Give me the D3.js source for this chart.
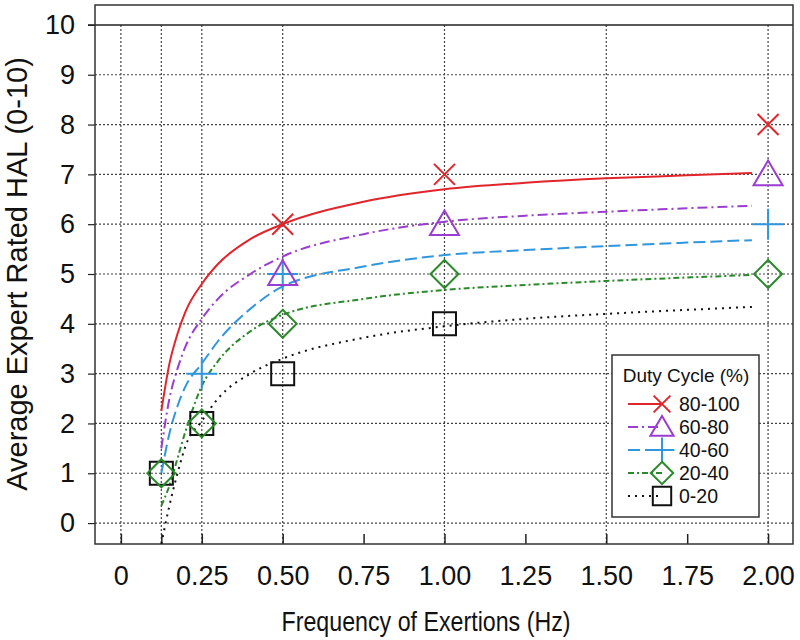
<html>
<head>
  <meta charset="utf-8">
  <style>
    body { margin: 0; background: #fff; }
    svg { font-family: "Liberation Sans", Arial, sans-serif; }
  </style>
</head>
<body>
  <svg></svg>
  <script src="https://d3js.org/d3.v7.min.js"></script>
  <script>
    let width = 800, height = 640;

    // data
    const fitX = [0.125, 0.15, 0.175, 0.2, 0.25, 0.3, 0.4, 0.5, 0.75, 1.0, 1.25, 1.5, 1.75, 1.95];
    const fit80 = [2.25, 3.2, 3.8, 4.25, 4.8, 5.2, 5.7, 6.0, 6.45, 6.7, 6.83, 6.92, 6.98, 7.03];
    const fit60 = [1.5, 2.5, 3.1, 3.55, 4.1, 4.5, 5.0, 5.35, 5.8, 6.05, 6.17, 6.25, 6.32, 6.37];
    const fit40 = [1.0, 1.8, 2.35, 2.75, 3.2, 3.65, 4.3, 4.75, 5.15, 5.38, 5.48, 5.56, 5.63, 5.68];
    const fit20 = [0.35, 0.75, 1.3, 1.85, 2.75, 3.25, 3.85, 4.18, 4.5, 4.68, 4.78, 4.86, 4.93, 4.98];
    const fit0 = [-0.42, 0.35, 1.0, 1.55, 2.05, 2.5, 3.0, 3.3, 3.72, 3.95, 4.1, 4.2, 4.28, 4.34];

    const pts80 = [[0.5, 6], [1, 7], [2, 8]];
    const pts60 = [[0.5, 5], [1, 6], [2, 7]];
    const pts40 = [[0.25, 3], [0.5, 5], [2, 6]];
    const pts20 = [[0.125, 1], [0.25, 2], [0.5, 4], [1, 5], [2, 5]];
    const pts0 = [[0.125, 1], [0.25, 2], [0.5, 3], [1, 4]];

    const groups = ["80-100", "60-80", "40-60", "20-40", "0-20"];
    const xTickVals = [0, 0.125, 0.25, 0.5, 0.75, 1, 1.25, 1.5, 1.75, 2];
    const xLabelVals = [0, 0.25, 0.5, 0.75, 1, 1.25, 1.5, 1.75, 2];
    const xGridVals = [0, 0.125, 0.25, 0.5, 1, 1.5, 2];
    const yTickVals = [0, 1, 2, 3, 4, 5, 6, 7, 8, 9, 10];

    const series = [
      { name: groups[0], fit: fit80, pts: pts80, color: "#e0252b", dash: null, shape: "x", size: 21 },
      { name: groups[1], fit: fit60, pts: pts60, color: "#9b3dd1", dash: "10,4,2,4", shape: "tri", size: 29 },
      { name: groups[2], fit: fit40, pts: pts40, color: "#3096de", dash: "12,5", shape: "plus", size: 31 },
      { name: groups[3], fit: fit20, pts: pts20, color: "#2a8a2a", dash: "6,3,2,3", shape: "dia", size: 28 },
      { name: groups[4], fit: fit0, pts: pts0, color: "#111", dash: "2,5", shape: "sq", size: 23 }
    ];

    let svg = d3.select("svg")
      .attr("width", width)
      .attr("height", height);

    let mLeft = 95, mRight = 793, mTop = 5, mBottom = 544;

    let x = d3.scaleLinear().domain([-0.08, 2.077]).range([mLeft, mRight]);
    let y = d3.scaleLinear().domain([-0.42, 10.4]).range([mBottom, mTop]);

    // marker shapes
    function marker(shape, s) {
      let h = s / 2;
      if (shape == "x") return `M${-h},${-h}L${h},${h}M${-h},${h}L${h},${-h}`;
      if (shape == "plus") return `M${-h},0L${h},0M0,${-h}L0,${h}`;
      if (shape == "tri") return `M0,${-h * 0.95}L${h},${h * 0.75}L${-h},${h * 0.75}Z`;
      if (shape == "dia") return `M0,${-h}L${h},0L0,${h}L${-h},0Z`;
      return `M${-h},${-h}H${h}V${h}H${-h}Z`;
    }

    svg.append("defs").append("clipPath").attr("id", "plot")
      .append("rect")
      .attr("x", mLeft).attr("y", mTop)
      .attr("width", mRight - mLeft).attr("height", mBottom - mTop);

    // grid
    svg.append("g")
      .selectAll("line")
      .data(yTickVals.slice(0, -1))
      .enter().append("line")
      .attr("x1", mLeft).attr("x2", mRight)
      .attr("y1", d => y(d)).attr("y2", d => y(d))
      .attr("stroke", "#444").attr("stroke-width", 1.2)
      .attr("stroke-dasharray", "2,2");

    svg.append("g")
      .selectAll("line")
      .data(xGridVals)
      .enter().append("line")
      .attr("x1", d => x(d)).attr("x2", d => x(d))
      .attr("y1", y(10)).attr("y2", mBottom)
      .attr("stroke", "#444").attr("stroke-width", 1.2)
      .attr("stroke-dasharray", "2,2");

    // solid line at 10
    svg.append("line")
      .attr("x1", mLeft - 7).attr("x2", mRight)
      .attr("y1", y(10)).attr("y2", y(10))
      .attr("stroke", "#222").attr("stroke-width", 1.5);

    // axes
    let yAxis = d3.axisLeft(y).tickValues(yTickVals).tickSize(7).tickPadding(13);
    svg.append("g")
      .attr("transform", `translate(${mLeft},0)`)
      .call(yAxis)
      .call(g => g.select(".domain").remove())
      .call(g => g.selectAll("line").attr("stroke", "#222").attr("stroke-width", 1.2))
      .call(g => g.selectAll("text").style("font-size", "27px").attr("fill", "#111"));

    svg.append("g")
      .attr("transform", `translate(0,${mBottom})`)
      .call(d3.axisBottom(x).tickValues(xTickVals).tickSize(-10).tickFormat(""))
      .call(g => g.select(".domain").remove())
      .call(g => g.selectAll("line").attr("stroke", "#222").attr("stroke-width", 1.5));

    svg.append("g")
      .attr("transform", `translate(0,${mBottom})`)
      .call(d3.axisBottom(x).tickValues(xLabelVals).tickSize(0).tickPadding(22)
        .tickFormat(d => d == 0 ? "0" : d3.format(".2f")(d)))
      .call(g => g.select(".domain").remove())
      .call(g => g.selectAll("text").style("font-size", "27px").attr("fill", "#111"));

    // frame
    svg.append("rect")
      .attr("x", mLeft).attr("y", mTop)
      .attr("width", mRight - mLeft).attr("height", mBottom - mTop)
      .attr("fill", "none").attr("stroke", "#333").attr("stroke-width", 1.5);

    // fitted curves
    let line = d3.line()
      .x((d, i) => x(fitX[i]))
      .y(d => y(d))
      .curve(d3.curveMonotoneX);

    let curves = svg.append("g").attr("clip-path", "url(#plot)");
    series.slice().reverse().forEach(s => {
      curves.append("path")
        .attr("d", line(s.fit))
        .attr("fill", "none")
        .attr("stroke", s.color)
        .attr("stroke-width", 2)
        .attr("stroke-dasharray", s.dash);
    });

    // observed points
    series.slice().reverse().forEach(s => {
      svg.append("g")
        .selectAll("path")
        .data(s.pts)
        .enter().append("path")
        .attr("transform", d => `translate(${x(d[0])},${y(d[1])})`)
        .attr("d", marker(s.shape, s.size))
        .attr("fill", "none")
        .attr("stroke", s.color)
        .attr("stroke-width", 2);
    });

    // legend
    let lg = svg.append("g");
    lg.append("rect")
      .attr("x", 612).attr("y", 355)
      .attr("width", 147).attr("height", 162)
      .attr("fill", "#fff").attr("stroke", "#333").attr("stroke-width", 1.5);
    lg.append("text")
      .attr("x", 686).attr("y", 382)
      .attr("text-anchor", "middle")
      .style("font-size", "19px").attr("fill", "#111")
      .text("Duty Cycle (%)");

    series.forEach((s, i) => {
      let ly = 404 + i * 23;
      lg.append("line")
        .attr("x1", 628).attr("x2", 662)
        .attr("y1", ly).attr("y2", ly)
        .attr("stroke", s.color).attr("stroke-width", 2)
        .attr("stroke-dasharray", s.dash);
      lg.append("path")
        .attr("transform", `translate(662,${ly})`)
        .attr("d", marker(s.shape, s.size * 0.8))
        .attr("fill", "none").attr("stroke", s.color).attr("stroke-width", 2);
      lg.append("text")
        .attr("x", 679).attr("y", ly)
        .attr("dy", "0.35em")
        .style("font-size", "19.5px").attr("fill", "#111")
        .text(s.name);
    });

    // axis titles
    svg.append("text")
      .attr("transform", "translate(426,631) scale(0.86,1)")
      .attr("text-anchor", "middle")
      .style("font-size", "27px").attr("fill", "#111")
      .text("Frequency of Exertions (Hz)");

    svg.append("text")
      .attr("transform", `translate(27,${(y(0) + y(10)) / 2}) rotate(-90)`)
      .attr("text-anchor", "middle")
      .style("font-size", "29px").attr("fill", "#111")
      .text("Average Expert Rated HAL (0-10)");
  </script>
</body>
</html>
